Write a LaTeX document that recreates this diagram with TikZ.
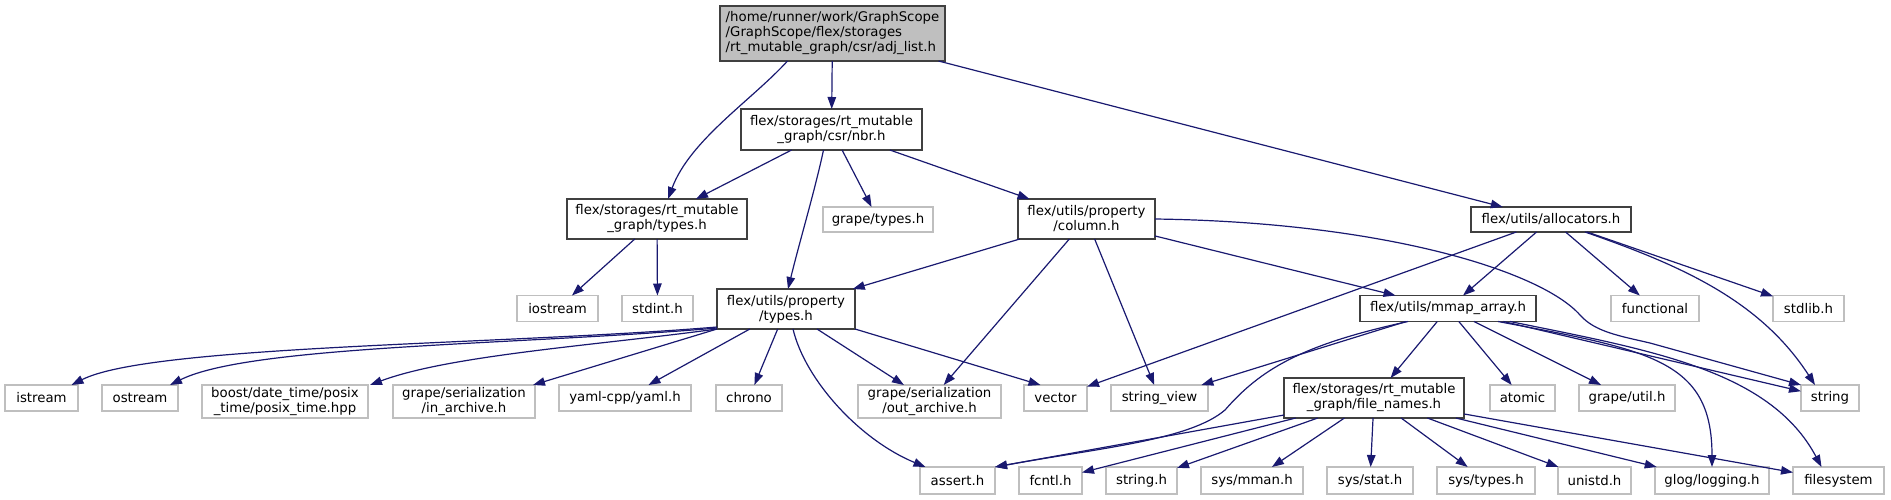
\documentclass[tikz,border=0pt]{standalone}
\usepackage{fontspec}
\newfontfamily\dv{DejaVu Sans}
\usetikzlibrary{arrows.meta}
\definecolor{mb}{HTML}{191970}
\definecolor{leafgray}{HTML}{BFBFBF}
\definecolor{docgray}{HTML}{404040}
\tikzset{
  box/.style={line width=1.2pt, inner sep=0pt, outer sep=0pt, fill=white, align=center, font=\dv\fontsize{13.3}{15}\selectfont},
  doc/.style={box, draw=docgray},
  leaf/.style={box, draw=leafgray},
  edge/.style={draw=mb, line width=1.2pt, -{Triangle[length=12pt,width=8.5pt]}, fill=none},
}
\begin{document}
\begin{tikzpicture}[x=1pt,y=-1pt]
\useasboundingbox (0,0) rectangle (1891,499);
% row 0
\node[doc, fill=leafgray, align=left, minimum width=225pt, minimum height=55pt] (root) at (832.5,33.5) {/home/runner/work/GraphScope\\/GraphScope/flex/storages\\/rt\_mutable\_graph/csr/adj\_list.h};
% row 1
\node[doc, minimum width=181pt, minimum height=41pt] (nbr) at (831.5,129.5) {flex/storages/rt\_mutable\\\_graph/csr/nbr.h};
% row 2
\node[doc, minimum width=180pt, minimum height=40pt] (rtypes) at (657,219) {flex/storages/rt\_mutable\\\_graph/types.h};
\node[leaf, minimum width=110pt, minimum height=25pt] (gtypes) at (878,219.5) {grape/types.h};
\node[doc, minimum width=137pt, minimum height=40pt] (column) at (1086.5,219) {flex/utils/property\\/column.h};
\node[doc, minimum width=160pt, minimum height=25pt] (alloc) at (1551,219.5) {flex/utils/allocators.h};
% row 3
\node[leaf, minimum width=81pt, minimum height=26pt] (iostream) at (557.5,308.5) {iostream};
\node[leaf, minimum width=71pt, minimum height=26pt] (stdint) at (657.5,308.5) {stdint.h};
\node[doc, minimum width=138pt, minimum height=40pt] (ptypes) at (786,309) {flex/utils/property\\/types.h};
\node[doc, minimum width=176pt, minimum height=26pt] (mmap) at (1448,308.5) {flex/utils/mmap\_array.h};
\node[leaf, minimum width=88pt, minimum height=26pt] (functional) at (1655,308.5) {functional};
\node[leaf, minimum width=71pt, minimum height=26pt] (stdlib) at (1808.5,308.5) {stdlib.h};
% row 4
\node[leaf, minimum width=73pt, minimum height=26pt] (istream) at (41.5,398) {istream};
\node[leaf, minimum width=76pt, minimum height=26pt] (ostream) at (140,398) {ostream};
\node[leaf, minimum width=166pt, minimum height=33pt] (boost) at (285,401.5) {boost/date\_time/posix\\\_time/posix\_time.hpp};
\node[leaf, minimum width=142pt, minimum height=33pt] (inarch) at (464,401.5) {grape/serialization\\/in\_archive.h};
\node[leaf, minimum width=132pt, minimum height=26pt] (yaml) at (625,398) {yaml-cpp/yaml.h};
\node[leaf, minimum width=66pt, minimum height=26pt] (chrono) at (749,398) {chrono};
\node[leaf, minimum width=143pt, minimum height=33pt] (outarch) at (929.5,401.5) {grape/serialization\\/out\_archive.h};
\node[leaf, minimum width=63pt, minimum height=26pt] (vector) at (1055.5,398) {vector};
\node[leaf, minimum width=97pt, minimum height=26pt] (sview) at (1159.5,398) {string\_view};
\node[doc, minimum width=180pt, minimum height=40pt] (fnames) at (1374,398) {flex/storages/rt\_mutable\\\_graph/file\_names.h};
\node[leaf, minimum width=65pt, minimum height=26pt] (atomic) at (1522.5,398) {atomic};
\node[leaf, minimum width=96pt, minimum height=26pt] (gutil) at (1627,398) {grape/util.h};
\node[leaf, minimum width=58pt, minimum height=26pt] (string) at (1830,398) {string};
% row 5
\node[leaf, minimum width=75pt, minimum height=27pt] (assert) at (957.5,480.5) {assert.h};
\node[leaf, minimum width=63pt, minimum height=27pt] (fcntl) at (1050.5,480.5) {fcntl.h};
\node[leaf, minimum width=71pt, minimum height=27pt] (stringh) at (1141.5,480.5) {string.h};
\node[leaf, minimum width=102pt, minimum height=27pt] (mman) at (1252,480.5) {sys/mman.h};
\node[leaf, minimum width=86pt, minimum height=27pt] (stat) at (1370,480.5) {sys/stat.h};
\node[leaf, minimum width=98pt, minimum height=27pt] (systypes) at (1486,480.5) {sys/types.h};
\node[leaf, minimum width=73pt, minimum height=27pt] (unistd) at (1594.5,480.5) {unistd.h};
\node[leaf, minimum width=114pt, minimum height=27pt] (glog) at (1712,480.5) {glog/logging.h};
\node[leaf, minimum width=91pt, minimum height=27pt] (fsys) at (1838.5,480.5) {filesystem};

% edges from root
\draw[edge] ([xshift=-45pt]root.south) .. controls (752,100) and (690,140) .. ([xshift=11pt]rtypes.north);
\draw[edge] (root) -- (nbr);
\draw[edge] (root) -- (alloc);
% from nbr
\draw[edge] (nbr) -- (rtypes);
\draw[edge] ([xshift=-8pt]nbr.south) .. controls (815,190) and (800,240) .. ([xshift=2pt]ptypes.north);
\draw[edge] (nbr) -- (gtypes);
\draw[edge] (nbr) -- (column);
% from rtypes
\draw[edge] (rtypes) -- (iostream);
\draw[edge] (rtypes) -- (stdint);
% from column
\draw[edge] (column) -- (ptypes);
\draw[edge] (column) -- (outarch);
\draw[edge] (column) -- (sview);
\draw[edge] (column) -- (mmap);
\draw[edge] (column.east) .. controls (1380,222) and (1540,270) .. (1580,315) .. controls (1595,332) and (1620,336) .. (1650,343) -- (string.north west);
% from alloc
\draw[edge] (alloc) -- (vector);
\draw[edge] (alloc) -- (mmap);
\draw[edge] (alloc) -- (functional);
\draw[edge] ([xshift=34pt]alloc.south) .. controls (1680,265) and (1760,300) .. ([xshift=-15pt]string.north);
\draw[edge] (alloc) -- (stdlib);
% from ptypes
\draw[edge] ([yshift=2pt]ptypes.south west) .. controls (500,345) and (150,345) .. ([xshift=30pt]istream.north);
\draw[edge] ([yshift=1pt]ptypes.south west) .. controls (520,345) and (250,345) .. ([xshift=30pt]ostream.north);
\draw[edge] (ptypes.south west) .. controls (600,345) and (450,355) .. ([xshift=2pt]boost.north east);
\draw[edge] (ptypes.south west) -- ([xshift=-2pt]inarch.north east);
\draw[edge] (ptypes) -- (yaml);
\draw[edge] (ptypes) -- (chrono);
\draw[edge] (ptypes) -- (outarch);
\draw[edge] ([xshift=7pt]ptypes.south) .. controls (805,380) and (860,440) .. ([xshift=-32pt]assert.north);
\draw[edge] (ptypes.south east) -- ([xshift=-15pt]vector.north);
% from mmap
\draw[edge] ([xshift=-40pt]mmap.south) .. controls (1300,345) and (1260,370) .. (1225,410) .. controls (1190,440) and (1100,448) .. (assert.north east);
\draw[edge] (mmap) -- (sview);
\draw[edge] (mmap) -- (fnames);
\draw[edge] (mmap) -- (atomic);
\draw[edge] (mmap) -- (gutil);
\draw[edge] (mmap) -- (string);
\draw[edge] ([xshift=50pt]mmap.south) .. controls (1650,350) and (1712,360) .. (glog.north);
\draw[edge] ([xshift=62pt]mmap.south) .. controls (1650,350) and (1770,370) .. ([xshift=-17pt]fsys.north);
% from fnames
\draw[edge] ([yshift=3pt]fnames.south west) -- (assert.north east);
\draw[edge] (fnames) -- (fcntl);
\draw[edge] (fnames) -- (stringh);
\draw[edge] (fnames) -- (mman);
\draw[edge] (fnames) -- (stat);
\draw[edge] (fnames) -- (systypes);
\draw[edge] (fnames) -- (unistd);
\draw[edge] (fnames) -- (glog);
\draw[edge] (fnames) -- (fsys);
\end{tikzpicture}
\end{document}
